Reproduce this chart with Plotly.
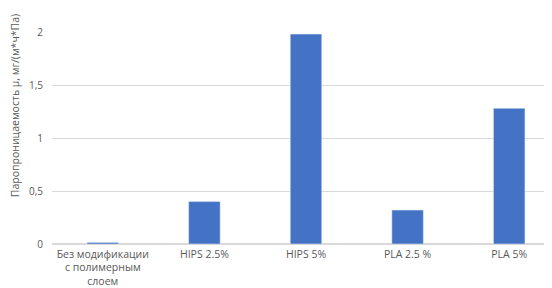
import plotly.graph_objects as go

categories = ["Без модификации<br>с полимерным<br>слоем", "HIPS 2.5%", "HIPS 5%", "PLA 2.5 %", "PLA 5%"]
values = [0.015, 0.40, 1.98, 0.32, 1.28]
y_ticks = [0, 0.5, 1, 1.5, 2]
y_title = "Паропроницаемость μ, мг/(м*ч*Па)"

fig = go.Figure(go.Bar(x=categories, y=values, marker_color="#4472C4", width=0.31))

fig.update_layout(
    width=552, height=288,
    margin=dict(l=44, r=0, t=24, b=52),
    paper_bgcolor="white", plot_bgcolor="white",
    separators=", ",
    font=dict(family="Open Sans, Liberation Sans, sans-serif", size=11, color="#595959"),
    showlegend=False,
    annotations=[dict(
        text=y_title, textangle=-90, xref="paper", yref="paper",
        x=0, y=0.65, xanchor="center", yanchor="middle", xshift=-37,
        showarrow=False, font=dict(size=10.5, color="#595959"),
    )],
)
fig.update_yaxes(
    range=[0, 2], tickvals=y_ticks, automargin=False,
    showgrid=True, gridcolor="#D9D9D9", gridwidth=1,
    zeroline=True, zerolinecolor="#D9D9D9",
    ticks="", ticklabelstandoff=8, tickfont=dict(size=10),
)
fig.update_xaxes(
    showline=True, linecolor="#D9D9D9", ticks="", tickangle=0,
    ticklabelstandoff=0, automargin=False, tickfont=dict(size=10.5),
)
fig.write_html("out.html")
